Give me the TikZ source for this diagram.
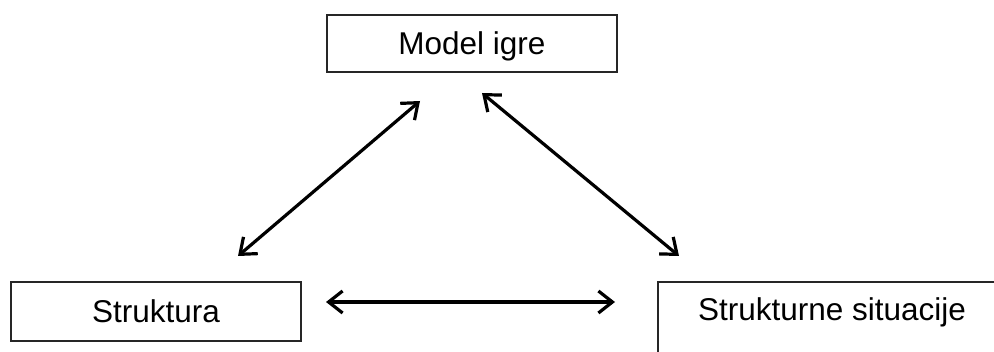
\documentclass[tikz,border=0pt]{standalone}
\usepackage{fontspec}
\setmainfont{Liberation Sans}
\usetikzlibrary{arrows.meta}
\begin{document}
\begin{tikzpicture}[x=1pt,y=-1pt,
  box/.style={draw=black!85, line width=1.4pt, rectangle, inner sep=0pt,
    font=\fontsize{31.5}{36}\selectfont, text height=23pt, text depth=0pt},
  label/.style={inner sep=0pt, font=\fontsize{31.5}{36}\selectfont,
    text height=23pt, text depth=0pt},
  link/.style={line width=3.2pt,
    {Straight Barb[length=14pt,width=22pt,line width=3.2pt]}-{Straight Barb[length=14pt,width=22pt,line width=3.2pt]}}]
\useasboundingbox (0,0) rectangle (994,352);
\fill[white] (0,0) rectangle (994,352);

% the three boxes
\node[box, minimum width=290pt, minimum height=57pt] (model) at (472,43.5) {Model igre};
\node[box, minimum width=290pt, minimum height=59pt] (struk) at (156,311.5) {Struktura};
\node[label] (sit) at (832,309.5) {Strukturne situacije};
\draw[black!85, line width=1.4pt] (1010,282) -- (658,282) -- (658,370);

% arrow end points
\coordinate (a1) at (238,256);
\coordinate (a2) at (420,101);
\coordinate (b1) at (482,93);
\coordinate (b2) at (679,256);
\coordinate (c1) at (326,302);
\coordinate (c2) at (615,302);

\draw[link] (a1) -- (a2);
\draw[link] (b1) -- (b2);
\draw[link] (c1) -- (c2);
\end{tikzpicture}
\end{document}
